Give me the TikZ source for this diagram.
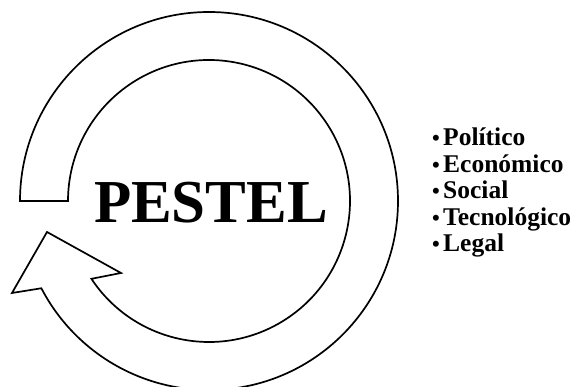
\documentclass[tikz,border=0pt]{standalone}
\usepackage{fontspec}
\setmainfont{Liberation Serif}
\usepackage{tikz}
\usetikzlibrary{calc,positioning}

\begin{document}
\begin{tikzpicture}[x=1pt,y=1pt,
		ring/.style={draw=black,line width=1.7pt,fill=white,line join=miter},
		titulo/.style={font=\bfseries\fontsize{61}{61}\selectfont,inner sep=0pt,anchor=base},
		lista/.style={font=\bfseries\fontsize{25.5}{25.5}\selectfont,inner sep=0pt,anchor=base west},
		vineta/.style={font=\bfseries\fontsize{22}{22}\selectfont,inner sep=0pt,anchor=base east}]
	\useasboundingbox (0,0) rectangle (579,387);
	\coordinate (c) at (209,186);
	% flecha circular: arco exterior, punta, arco interior
	\draw[ring] (c) ++(180:189) arc[start angle=180,end angle=-152.5,radius=189]
		-- (12,94) -- (47,155) -- (121,114)
		-- ($(c)+(-146.5:141)$) arc[start angle=-146.5,end angle=180,radius=141]
		-- cycle;
	\node[titulo] (pestel) at (211,164) {PESTEL};
	\foreach \txt [count=\i] in {Político,Económico,Social,Tecnológico,Legal}{
		\node[lista] (item\i) at (443,267.5-26.5*\i) {\txt};
		\node[vineta] (bul\i) at ([xshift=-3pt]item\i.base west) {•};
	}
\end{tikzpicture}
\end{document}
